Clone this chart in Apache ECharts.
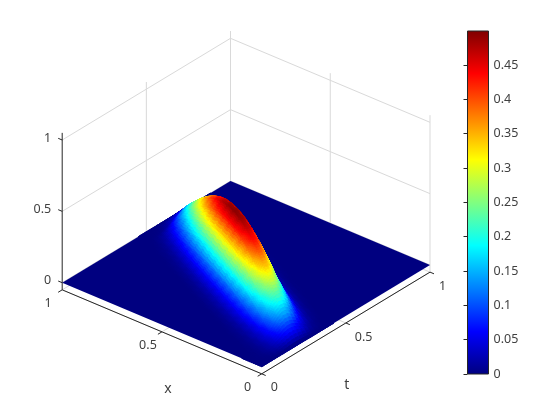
<!DOCTYPE html>
<html>
<head>
<meta charset="utf-8">
<style>
  html, body { margin: 0; padding: 0; background: #fff; }
  #main { width: 560px; height: 420px; }
</style>
<script src="https://cdn.jsdelivr.net/npm/echarts@6/dist/echarts.min.js"></script>
</head>
<body>
<div id="main"></div>
<script>
  // surface heights, one row per x, one column per t
  // (columns past the end of a row are 0)
  const xGrid = [0, 0.05, 0.1, 0.15, 0.2, 0.25, 0.3, 0.35, 0.4, 0.45, 0.5, 0.55, 0.6, 0.65, 0.7, 0.75, 0.8, 0.85, 0.9, 0.95, 1]
  const tGrid = [0, 0.024, 0.048, 0.071, 0.095, 0.119, 0.143, 0.167, 0.19, 0.214, 0.238, 0.262, 0.286, 0.31, 0.333, 0.357, 0.381, 0.405, 0.429, 0.452, 0.476, 0.5, 0.524, 0.548, 0.571, 0.595, 0.619, 0.643, 0.667, 0.69, 0.714, 0.738, 0.762, 0.786, 0.81, 0.833, 0.857, 0.881, 0.905, 0.929, 0.952, 0.976, 1]
  const zRows = [
    [],
    [0, 0.001, 0.002, 0.004, 0.01, 0.02, 0.035, 0.052, 0.068, 0.077, 0.076, 0.065, 0.049, 0.032, 0.018, 0.009, 0.004, 0.001],
    [0, 0, 0.001, 0.003, 0.009, 0.02, 0.04, 0.069, 0.103, 0.135, 0.153, 0.151, 0.129, 0.096, 0.062, 0.035, 0.017, 0.007, 0.003, 0.001],
    [0, 0, 0, 0.002, 0.005, 0.013, 0.03, 0.059, 0.101, 0.152, 0.198, 0.225, 0.221, 0.19, 0.141, 0.092, 0.052, 0.025, 0.011, 0.004, 0.001],
    [0, 0, 0, 0, 0.002, 0.006, 0.017, 0.038, 0.076, 0.131, 0.196, 0.256, 0.291, 0.287, 0.246, 0.183, 0.119, 0.067, 0.033, 0.014, 0.005, 0.002],
    [0, 0, 0, 0, 0, 0.003, 0.008, 0.02, 0.046, 0.091, 0.157, 0.236, 0.308, 0.35, 0.345, 0.296, 0.22, 0.143, 0.08, 0.039, 0.017, 0.006, 0.002, 0.001],
    [0, 0, 0, 0, 0, 0, 0.003, 0.009, 0.023, 0.053, 0.104, 0.18, 0.27, 0.353, 0.4, 0.394, 0.338, 0.252, 0.163, 0.092, 0.045, 0.019, 0.007, 0.002, 0.001],
    [0, 0, 0, 0, 0, 0, 0, 0.003, 0.01, 0.025, 0.058, 0.115, 0.198, 0.298, 0.388, 0.441, 0.434, 0.372, 0.278, 0.18, 0.101, 0.049, 0.021, 0.008, 0.002, 0.001],
    [0, 0, 0, 0, 0, 0, 0, 0, 0.003, 0.01, 0.027, 0.062, 0.123, 0.212, 0.318, 0.415, 0.47, 0.464, 0.398, 0.296, 0.192, 0.108, 0.053, 0.023, 0.008, 0.003, 0.001],
    [0, 0, 0, 0, 0, 0, 0, 0, 0, 0.004, 0.011, 0.028, 0.064, 0.127, 0.22, 0.33, 0.431, 0.488, 0.481, 0.413, 0.308, 0.199, 0.112, 0.055, 0.023, 0.009, 0.003, 0.001],
    [0, 0, 0, 0, 0, 0, 0, 0, 0, 0, 0.004, 0.011, 0.028, 0.065, 0.129, 0.223, 0.334, 0.436, 0.495, 0.488, 0.418, 0.312, 0.202, 0.114, 0.056, 0.024, 0.009, 0.003, 0.001],
    [0, 0, 0, 0, 0, 0, 0, 0, 0, 0, 0, 0.004, 0.011, 0.028, 0.064, 0.127, 0.22, 0.33, 0.431, 0.488, 0.481, 0.413, 0.308, 0.199, 0.112, 0.055, 0.023, 0.009, 0.003, 0.001],
    [0, 0, 0, 0, 0, 0, 0, 0, 0, 0, 0, 0, 0.003, 0.01, 0.027, 0.062, 0.123, 0.212, 0.318, 0.415, 0.47, 0.464, 0.398, 0.296, 0.192, 0.108, 0.053, 0.023, 0.008, 0.003, 0.001],
    [0, 0, 0, 0, 0, 0, 0, 0, 0, 0, 0, 0, 0, 0.003, 0.01, 0.025, 0.058, 0.115, 0.198, 0.298, 0.388, 0.441, 0.434, 0.372, 0.278, 0.18, 0.101, 0.049, 0.021, 0.008, 0.002, 0.001],
    [0, 0, 0, 0, 0, 0, 0, 0, 0, 0, 0, 0, 0, 0, 0.003, 0.009, 0.023, 0.053, 0.104, 0.18, 0.27, 0.353, 0.4, 0.394, 0.338, 0.252, 0.163, 0.092, 0.045, 0.019, 0.007, 0.002, 0.001],
    [0, 0, 0, 0, 0, 0, 0, 0, 0, 0, 0, 0, 0, 0, 0, 0.003, 0.008, 0.02, 0.046, 0.091, 0.157, 0.236, 0.308, 0.35, 0.345, 0.296, 0.22, 0.143, 0.08, 0.039, 0.017, 0.006, 0.002, 0.001],
    [0, 0, 0, 0, 0, 0, 0, 0, 0, 0, 0, 0, 0, 0, 0, 0, 0.002, 0.006, 0.017, 0.038, 0.076, 0.131, 0.196, 0.256, 0.291, 0.287, 0.246, 0.183, 0.119, 0.067, 0.033, 0.014, 0.005, 0.002],
    [0, 0, 0, 0, 0, 0, 0, 0, 0, 0, 0, 0, 0, 0, 0, 0, 0, 0.002, 0.005, 0.013, 0.03, 0.059, 0.101, 0.152, 0.198, 0.225, 0.221, 0.19, 0.141, 0.092, 0.052, 0.025, 0.011, 0.004, 0.001],
    [0, 0, 0, 0, 0, 0, 0, 0, 0, 0, 0, 0, 0, 0, 0, 0, 0, 0, 0.001, 0.003, 0.009, 0.02, 0.04, 0.069, 0.103, 0.135, 0.153, 0.151, 0.129, 0.096, 0.062, 0.035, 0.017, 0.007, 0.003, 0.001],
    [0, 0, 0, 0, 0, 0, 0, 0, 0, 0, 0, 0, 0, 0, 0, 0, 0, 0, 0, 0, 0.001, 0.002, 0.004, 0.01, 0.02, 0.035, 0.052, 0.068, 0.077, 0.076, 0.065, 0.049, 0.032, 0.018, 0.009, 0.004, 0.001],
    []
  ]
  const xTicks = [0, 0.5, 1]
  const tTicks = [0, 0.5, 1]
  const zTicks = [0, 0.5, 1]
  const zFloor = -0.05
  const zTop = 1.05
  const colorMax = 0.4995
  const colorTickStep = 0.05

  const textColor = '#404040'
  const axisColor = '#262626'
  const gridColor = '#d9d9d9'
  const fontFamily = '"Noto Sans", "Open Sans", sans-serif'

  // view of the box, in page pixels
  function project (x, t, z) {
    return [
      261.7 - 199.5 * x + 168.3 * t,
      366.7 - 84 * x - 101.7 * t - 142.7 * z
    ]
  }

  function jet (v) {
    const part = (c) => Math.round(255 * Math.max(0, Math.min(1, 1.5 - Math.abs(4 * v - c))))
    return 'rgb(' + part(3) + ',' + part(2) + ',' + part(1) + ')'
  }

  function zAt (i, j) {
    return zRows[i][j] || 0
  }

  function vertex (i, j) {
    return [xGrid[i], tGrid[j], zAt(i, j)]
  }

  function lineEl (api, from, to, color) {
    const a = api.coord(project(from[0], from[1], from[2]))
    const b = api.coord(project(to[0], to[1], to[2]))
    return {
      type: 'line',
      shape: { x1: a[0], y1: a[1], x2: b[0], y2: b[1] },
      style: { stroke: color, lineWidth: 1 }
    }
  }

  function textEl (api, pos, dx, dy, text, size, align) {
    const p = api.coord(project(pos[0], pos[1], pos[2]))
    return {
      type: 'text',
      style: {
        x: p[0] + dx,
        y: p[1] + dy,
        text: text,
        fill: textColor,
        fontSize: size,
        fontFamily: fontFamily,
        align: align,
        verticalAlign: 'middle'
      }
    }
  }

  // one facet, split up so the colour runs smoothly across it
  function facet (api, a, b, c, children) {
    const n = 5
    const mix = (u, v) => {
      const w = 1 - (u + v) / n
      return [0, 1, 2].map(k => a[k] * w + b[k] * u / n + c[k] * v / n)
    }
    const add = (p, q, r) => {
      const color = jet((p[2] + q[2] + r[2]) / 3 / colorMax)
      children.push({
        type: 'polygon',
        shape: { points: [p, q, r].map(m => api.coord(project(m[0], m[1], m[2]))) },
        style: { fill: color, stroke: color, lineWidth: 1 }
      })
    }
    for (let u = 0; u < n; u++) {
      for (let v = 0; v < n - u; v++) {
        add(mix(u, v), mix(u + 1, v), mix(u, v + 1))
        if (u + v < n - 1) add(mix(u + 1, v), mix(u + 1, v + 1), mix(u, v + 1))
      }
    }
  }

  // the flat sheet under everything, then only the cells that lift off it
  function renderSheet (params, api) {
    const xEnd = xGrid[xGrid.length - 1]
    const tEnd = tGrid[tGrid.length - 1]
    const corners = [[0, 0], [xEnd, 0], [xEnd, tEnd], [0, tEnd]]
    return {
      type: 'polygon',
      shape: { points: corners.map(c => api.coord(project(c[0], c[1], 0))) },
      style: { fill: jet(0) }
    }
  }

  function renderCell (params, api) {
    const i = api.value(0)
    const j = api.value(1)
    const children = []
    const top = Math.max(zAt(i, j), zAt(i + 1, j), zAt(i, j + 1), zAt(i + 1, j + 1))
    if (top > 0) {
      // split along the ridge
      facet(api, vertex(i + 1, j + 1), vertex(i + 1, j), vertex(i, j), children)
      facet(api, vertex(i + 1, j + 1), vertex(i, j + 1), vertex(i, j), children)
    }
    return { type: 'group', children: children }
  }

  function renderWalls (params, api) {
    const children = []
    zTicks.forEach(z => {
      children.push(lineEl(api, [1, 0, z], [1, 1, z], gridColor))
      children.push(lineEl(api, [1, 1, z], [0, 1, z], gridColor))
    })
    tTicks.forEach(t => {
      if (t > 0) children.push(lineEl(api, [1, t, zFloor], [1, t, zTop], gridColor))
      children.push(lineEl(api, [0, t, zFloor], [1, t, zFloor], gridColor))
    })
    xTicks.forEach(x => {
      children.push(lineEl(api, [x, 1, zFloor], [x, 1, zTop], gridColor))
      children.push(lineEl(api, [x, 0, zFloor], [x, 1, zFloor], gridColor))
    })
    return { type: 'group', children: children }
  }

  function renderAxes (params, api) {
    const children = [
      lineEl(api, [1, 0, zFloor], [1, 0, zTop], axisColor),
      lineEl(api, [0, 0, zFloor], [1, 0, zFloor], axisColor),
      lineEl(api, [0, 0, zFloor], [0, 1, zFloor], axisColor)
    ]
    zTicks.forEach(z => {
      children.push(lineEl(api, [1, 0, z], [1.02, 0, z], axisColor))
      children.push(textEl(api, [1, 0, z], -11, -2, String(z), 12.5, 'right'))
    })
    xTicks.forEach(x => {
      children.push(lineEl(api, [x, 0, zFloor], [x, -0.024, zFloor], axisColor))
      children.push(textEl(api, [x, 0, zFloor], -14, 14, String(x), 12.5, 'center'))
    })
    tTicks.forEach(t => {
      children.push(lineEl(api, [0, t, zFloor], [-0.02, t, zFloor], axisColor))
      children.push(textEl(api, [0, t, zFloor], 9, 14, String(t), 12.5, 'left'))
    })
    children.push(textEl(api, [0.5, 0, zFloor], 6, 57, 'x', 14, 'center'))
    children.push(textEl(api, [0, 0.5, zFloor], 1, 62, 't', 14, 'center'))
    return { type: 'group', children: children }
  }

  function renderColorbar (params, api) {
    const a = api.coord([0, 0])
    const b = api.coord([1, colorMax])
    const stops = []
    for (let k = 0; k <= 64; k++) {
      stops.push({ offset: k / 64, color: jet(1 - k / 64) })
    }
    return {
      type: 'rect',
      shape: { x: a[0], y: b[1], width: b[0] - a[0], height: a[1] - b[1] },
      style: {
        fill: new echarts.graphic.LinearGradient(0, 0, 0, 1, stops),
        stroke: axisColor,
        lineWidth: 1
      }
    }
  }

  // far cells first so the near ones paint over them
  const cells = []
  for (let i = xGrid.length - 2; i >= 0; i--) {
    for (let j = tGrid.length - 2; j >= 0; j--) {
      cells.push([i, j])
    }
  }

  const chart = echarts.init(document.getElementById('main'), null, { renderer: 'canvas' })
  const option = {
    animation: false,
    backgroundColor: '#fff',
    grid: [
      { left: 0, top: 0, width: 560, height: 420 },
      { left: 467.5, top: 31, width: 21, height: 343 }
    ],
    xAxis: [
      { type: 'value', gridIndex: 0, min: 0, max: 560, show: false },
      { type: 'value', gridIndex: 1, min: 0, max: 1, show: false }
    ],
    yAxis: [
      { type: 'value', gridIndex: 0, min: 0, max: 420, inverse: true, show: false },
      {
        type: 'value',
        gridIndex: 1,
        position: 'right',
        min: 0,
        max: colorMax,
        interval: colorTickStep,
        z: 5,
        splitLine: { show: false },
        axisLine: { show: false },
        axisTick: { show: true, inside: true, length: 4, lineStyle: { color: axisColor, width: 1 } },
        axisLabel: {
          show: true,
          margin: 5,
          showMaxLabel: false,
          padding: [3, 0, 0, 0],
          color: textColor,
          fontSize: 12.5,
          fontFamily: fontFamily,
          formatter: (v) => String(Math.round(v * 100) / 100)
        }
      }
    ],
    series: [
      { type: 'custom', name: 'walls', silent: true, z: 1, xAxisIndex: 0, yAxisIndex: 0, clip: false, data: [[0]], renderItem: renderWalls },
      { type: 'custom', name: 'axes', silent: true, z: 2, xAxisIndex: 0, yAxisIndex: 0, clip: false, data: [[0]], renderItem: renderAxes },
      { type: 'custom', name: 'sheet', silent: true, z: 3, xAxisIndex: 0, yAxisIndex: 0, clip: false, data: [[0]], renderItem: renderSheet },
      { type: 'custom', name: 'surface', silent: true, z: 4, xAxisIndex: 0, yAxisIndex: 0, clip: false, progressive: 0, data: cells, renderItem: renderCell },
      { type: 'custom', name: 'colorbar', silent: true, z: 3, xAxisIndex: 1, yAxisIndex: 1, clip: false, data: [[0]], renderItem: renderColorbar }
    ]
  }
  chart.setOption(option)
  window.addEventListener('resize', chart.resize)
</script>
</body>
</html>
